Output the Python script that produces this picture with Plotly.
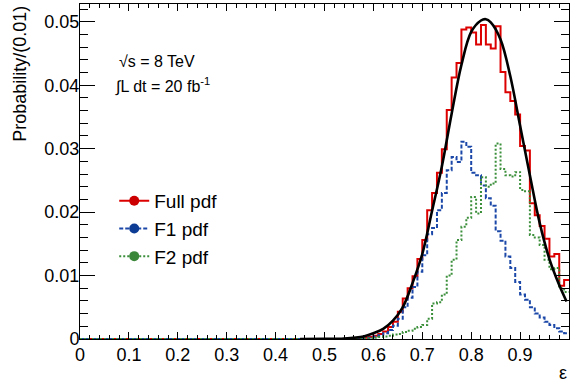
import numpy as np
import plotly.graph_objects as go

# ---- data ----
# histogram bins of width 0.01 from 0.00 to 1.00; non-zero content only from 0.55
bin_edges = np.round(np.arange(0, 1.0001, 0.01), 2)
first_nonzero_bin = 55  # bins 0.55 ... 0.99

full_pdf = [0.0000, 0.0001, 0.0001, 0.0002, 0.0003,
            0.0005, 0.0008, 0.0012, 0.0019, 0.0027,
            0.0043, 0.0064, 0.0080, 0.0099, 0.0126,
            0.0156, 0.0203, 0.0230, 0.0262, 0.0299,
            0.0361, 0.0412, 0.0435, 0.0488, 0.0491,
            0.0483, 0.0464, 0.0495, 0.0464, 0.0458,
            0.0493, 0.0421, 0.0389, 0.0375, 0.0354,
            0.0304, 0.0297, 0.0214, 0.0195, 0.0178,
            0.0158, 0.0130, 0.0134, 0.0084, 0.0093]

f1_pdf = [0.0000, 0.0000, 0.0001, 0.0001, 0.0002,
          0.0004, 0.0006, 0.0009, 0.0014, 0.0021,
          0.0032, 0.0050, 0.0065, 0.0082, 0.0106,
          0.0132, 0.0165, 0.0175, 0.0203, 0.0230,
          0.0266, 0.0287, 0.0279, 0.0311, 0.0303,
          0.0262, 0.0258, 0.0242, 0.0222, 0.0210,
          0.0170, 0.0155, 0.0130, 0.0112, 0.0090,
          0.0070, 0.0062, 0.0050, 0.0040, 0.0034,
          0.0027, 0.0022, 0.0017, 0.0012, 0.0009]

f2_pdf = [0.0000, 0.0000, 0.0000, 0.0001, 0.0001,
          0.0002, 0.0003, 0.0004, 0.0005, 0.0007,
          0.0008, 0.0011, 0.0013, 0.0016, 0.0019,
          0.0022, 0.0032, 0.0056, 0.0058, 0.0070,
          0.0100, 0.0125, 0.0156, 0.0177, 0.0191,
          0.0224, 0.0198, 0.0255, 0.0240, 0.0245,
          0.0308, 0.0268, 0.0258, 0.0256, 0.0263,
          0.0235, 0.0233, 0.0164, 0.0160, 0.0148,
          0.0125, 0.0110, 0.0112, 0.0080, 0.0074]

# fitted curve
fit_x = [0.45, 0.50, 0.54, 0.58, 0.60, 0.62, 0.64, 0.66, 0.68, 0.70, 0.72, 0.74, 0.76,
         0.78, 0.80, 0.82, 0.83, 0.84, 0.86, 0.88, 0.90, 0.92, 0.94, 0.96, 0.98, 0.995]
fit_y = [0.0, 0.00002, 0.00008, 0.0004, 0.0009, 0.0016, 0.0029, 0.0050, 0.0088, 0.0134,
         0.0202, 0.0272, 0.0355, 0.0432, 0.0484, 0.0502, 0.0504, 0.0499, 0.0472, 0.0414,
         0.0336, 0.0258, 0.0183, 0.0126, 0.0085, 0.0059]

x_tick_vals = [0, 0.1, 0.2, 0.3, 0.4, 0.5, 0.6, 0.7, 0.8, 0.9, 1.0]
x_tick_text = ["0", "0.1", "0.2", "0.3", "0.4", "0.5", "0.6", "0.7", "0.8", "0.9", "1"]
y_tick_vals = [0, 0.01, 0.02, 0.03, 0.04, 0.05]
y_tick_text = ["0", "0.01", "0.02", "0.03", "0.04", "0.05"]

series_names = ["Full pdf", "F1 pdf", "F2 pdf"]
RED, BLUE, GREEN = "#dc0000", "#1b48a8", "#3b8f3b"
MARKER_COLS = ["#cc0000", "#0d3c94", "#3a873a"]
FONT = "Liberation Sans, Arial, Helvetica, sans-serif"


def full_bins(vals):
    return [0.0] * first_nonzero_bin + list(vals)


def step_xy(vals):
    c = full_bins(vals)
    return list(bin_edges), c + [c[-1]]


fig = go.Figure()

styles = [
    (full_pdf, RED, "solid"),
    (f1_pdf, BLUE, "4px,2px"),
    (f2_pdf, GREEN, "2px,2px"),
]
for vals, col, dash in styles:
    xs, ys = step_xy(vals)
    fig.add_trace(go.Scatter(x=xs, y=ys, mode="lines", line_shape="hv",
                             line=dict(color=col, width=2, dash=dash),
                             showlegend=False, hoverinfo="skip"))

fig.add_trace(go.Scatter(x=fit_x, y=fit_y, mode="lines", line_shape="spline",
                         line=dict(color="black", width=2.6), showlegend=False))

# legend entries
for name, (vals, col, dash), mcol in zip(series_names, styles, MARKER_COLS):
    fig.add_trace(go.Scatter(x=[None], y=[None], mode="lines+markers", name=name,
                             line=dict(color=col, width=2, dash=dash),
                             marker=dict(color=mcol, size=10, symbol="circle"),
                             legendgroup=name))

fig.update_layout(
    width=570, height=381,
    margin=dict(l=80, r=1, t=4, b=42, autoexpand=False),
    paper_bgcolor="white", plot_bgcolor="white",
    font=dict(family=FONT, size=18, color="black"),
    legend=dict(x=0.070, y=0.469, xanchor="left", yanchor="top",
                bgcolor="rgba(0,0,0,0)", font=dict(size=19),
                itemwidth=30, tracegroupgap=5, traceorder="normal"),
)

fig.update_xaxes(range=[0, 1], showline=True, linecolor="black", linewidth=1,
                 mirror="allticks", ticks="inside", ticklen=7, tickcolor="black",
                 tickvals=x_tick_vals, ticktext=x_tick_text, showgrid=False, zeroline=False,
                 automargin=False, ticklabelstandoff=-1,
                 minor=dict(tick0=0, dtick=0.02, ticks="inside", ticklen=4, tickcolor="black",
                            showgrid=False),
                 tickfont=dict(size=18))
fig.update_yaxes(range=[0, 0.0528], showline=True, linecolor="black", linewidth=1,
                 mirror="allticks", ticks="inside", ticklen=15, tickcolor="black",
                 tickvals=y_tick_vals, ticktext=y_tick_text, showgrid=False, zeroline=False,
                 automargin=False, ticklabelstandoff=-4,
                 minor=dict(tick0=0, dtick=0.002, ticks="inside", ticklen=8, tickcolor="black",
                            showgrid=False),
                 tickfont=dict(size=18))

# axis titles
fig.add_annotation(text="Probability/(0.01)", textangle=-90, xref="paper", yref="paper",
                   x=-0.123, y=1.0, xanchor="center", yanchor="top", showarrow=False,
                   font=dict(size=18))
fig.add_annotation(text="ε", xref="paper", yref="paper", x=0.988, y=-0.1,
                   xanchor="center", yanchor="middle", showarrow=False, font=dict(size=18))

# labels
fig.add_annotation(text="√s = 8 TeV", xref="paper", yref="paper", x=0.076, y=0.827,
                   xanchor="left", yanchor="middle", showarrow=False, font=dict(size=16))
fig.add_annotation(text="∫L dt = 20 fb<sup>-1</sup>", xref="paper", yref="paper", x=0.068, y=0.757,
                   xanchor="left", yanchor="middle", showarrow=False, font=dict(size=16))

fig.write_html("out.html", config={"displayModeBar": False},
               post_script="document.body.style.margin='0';")
